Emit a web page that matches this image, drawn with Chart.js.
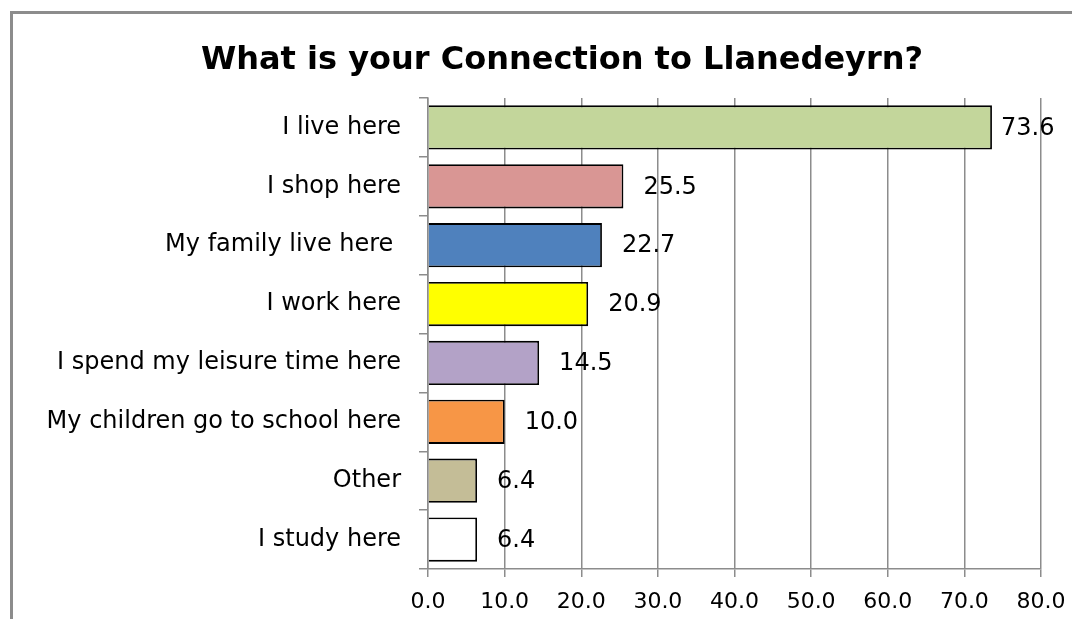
<!DOCTYPE html>
<html lang="en">
<head>
    <meta charset="UTF-8">
    <title>What is your Connection to Llanedeyrn?</title>
    <script src="https://cdn.jsdelivr.net/npm/chart.js"></script>
    <style>
        html, body { margin: 0; padding: 0; background: #fff; }
        #wrap { width: 1072px; height: 619px; position: relative; }
    </style>
</head>
<body>
    <div id="wrap"><canvas id="grafico"></canvas></div>

    <script>
        const categorias = [
            "I live here", "I shop here", "My family live here ", "I work here",
            "I spend my leisure time here", "My children go to school here",
            "Other", "I study here"
        ];
        const valores = [73.6, 25.5, 22.7, 20.9, 14.5, 10.0, 6.4, 6.4];
        const colores = ["#C3D69B", "#D99694", "#4F81BD", "#FFFF00", "#B3A2C7", "#F79646", "#C4BD97", "#FFFFFF"];
        const ticksX = [0, 10, 20, 30, 40, 50, 60, 70, 80];
        const titulo = 'What is your Connection to Llanedeyrn?';

        const fuente = "'DejaVu Sans', sans-serif";

        // borde gris del marco (solo izquierda y arriba visibles) + título
        const marco = {
            id: 'marco',
            beforeDraw(chart) {
                const c = chart.ctx;
                c.save();
                c.fillStyle = '#fff';
                c.fillRect(0, 0, chart.width, chart.height);
                c.strokeStyle = '#8c8c8c';
                c.lineWidth = 3;
                c.beginPath();
                c.moveTo(11.5, chart.height);
                c.lineTo(11.5, 12.5);
                c.lineTo(chart.width, 12.5);
                c.stroke();
                // el título va un poco a la derecha del centro, como en el original
                c.fillStyle = '#000';
                c.font = 'bold 32px ' + fuente;
                c.textAlign = 'center';
                c.textBaseline = 'middle';
                c.fillText(titulo, 562, 61);
                c.restore();
            }
        };

        // etiquetas de valores al final de cada barra
        const etiquetas = {
            id: 'etiquetas',
            afterDatasetsDraw(chart) {
                const c = chart.ctx;
                const meta = chart.getDatasetMeta(0);
                c.save();
                c.fillStyle = '#000';
                c.font = '24px ' + fuente;
                c.textBaseline = 'middle';
                c.textAlign = 'left';
                meta.data.forEach((barra, i) => {
                    const off = i === 0 ? 9 : 20;
                    c.fillText(valores[i].toFixed(1), barra.x + off, barra.y + 1);
                });
                c.restore();
            }
        };

        new Chart(document.getElementById('grafico'), {
            type: 'bar',
            data: {
                labels: categorias,
                datasets: [{
                    data: valores,
                    backgroundColor: colores,
                    borderColor: '#000',
                    borderWidth: 1.8,
                    barPercentage: 0.75,
                    categoryPercentage: 1
                }]
            },
            options: {
                indexAxis: 'y',
                responsive: true,
                maintainAspectRatio: false,
                animation: false,
                layout: { padding: { left: 0, right: 31, top: 98, bottom: 0 } },
                plugins: {
                    legend: { display: false },
                    tooltip: { enabled: false },
                    title: { display: false }
                },
                scales: {
                    x: {
                        min: 0,
                        max: 80,
                        afterBuildTicks(scale) {
                            scale.ticks = ticksX.map(v => ({ value: v }));
                        },
                        afterFit(scale) {
                            scale.height = 50;
                            scale.paddingLeft = 0;
                            scale.paddingRight = 0;
                        },
                        border: { color: '#8c8c8c', width: 1.5 },
                        grid: { color: '#8c8c8c', lineWidth: 1.5, tickLength: 8 },
                        ticks: {
                            color: '#000',
                            padding: 12,
                            font: { family: fuente, size: 22 },
                            callback: v => v.toFixed(1)
                        }
                    },
                    y: {
                        afterFit(scale) { scale.width = 428; },
                        border: { color: '#8c8c8c', width: 1.5 },
                        grid: { drawOnChartArea: false, color: '#8c8c8c', lineWidth: 1.5, tickLength: 9 },
                        ticks: {
                            color: '#000',
                            padding: 18,
                            font: { family: fuente, size: 24 }
                        }
                    }
                }
            },
            plugins: [marco, etiquetas]
        });
    </script>
</body>
</html>
